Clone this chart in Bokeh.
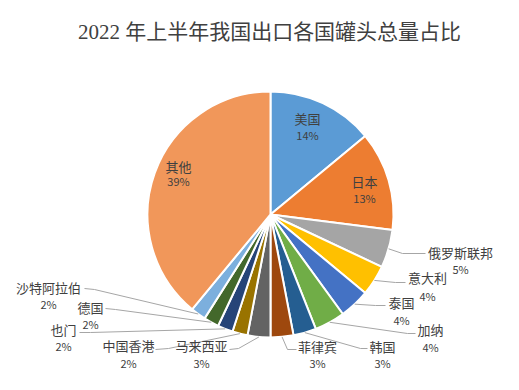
import math
from bokeh.plotting import figure
from bokeh.models import Range1d, ColumnDataSource
from bokeh.core.properties import value
from bokeh.embed import file_html
from bokeh.resources import INLINE

# ---------------- data ----------------
title_text = "2022 年上半年我国出口各国罐头总量占比"
categories = ["美国", "日本", "俄罗斯联邦", "意大利", "泰国", "加纳", "韩国",
              "菲律宾", "马来西亚", "中国香港", "也门", "德国", "沙特阿拉伯", "其他"]
shares = [14, 13, 5, 4, 4, 4, 3, 3, 3, 2, 2, 2, 2, 39]
colors = ["#5B9BD5", "#ED7D31", "#A5A5A5", "#FFC000", "#4472C4", "#70AD47", "#255E91",
          "#9E480E", "#636363", "#997300", "#264478", "#43682B", "#7CAFDD", "#F1975A"]

# ---------------- layout (image pixel coords) ----------------
W, H = 503, 374
IMG_H = 390
def Y(v):
    return IMG_H - v

CX, CY, R = 270, 214, 123
label_pos = {  # name centre x, name centre y, gap to percent line
    "美国": (307, 118, 16), "日本": (364, 181, 16), "俄罗斯联邦": (460, 252, 16),
    "意大利": (427, 277, 18), "泰国": (401, 302, 17), "加纳": (430, 329, 17),
    "韩国": (382, 346, 16), "菲律宾": (317, 346, 16), "马来西亚": (201, 345, 17),
    "中国香港": (128, 345, 17), "也门": (63, 329, 16), "德国": (90, 307, 16),
    "沙特阿拉伯": (48, 287, 16), "其他": (178, 166, 14),
}
leader_pos = {  # elbow, end
    "俄罗斯联邦": ((402, 253), (425, 253)), "意大利": ((395, 282), (405, 282)),
    "泰国": ((375, 305), (385, 305)), "加纳": ((407, 333), (415, 333)),
    "韩国": ((360, 348), (367, 348)), "菲律宾": ((287, 349), (296, 349)),
    "马来西亚": ((238, 348), (229, 349)), "中国香港": ((168, 348), (155, 349)),
    "也门": ((90, 332), (79, 332)), "德国": ((115, 309), (105, 308)),
    "沙特阿拉伯": ((94, 289), (84, 288)),
}

total = float(sum(shares))
starts, ends, mids = [], [], []
cum = 0.0
for s in shares:
    a0 = math.pi / 2 - 2 * math.pi * cum / total
    cum += s
    a1 = math.pi / 2 - 2 * math.pi * cum / total
    starts.append(a0)
    ends.append(a1)
    mids.append((a0 + a1) / 2)

src = ColumnDataSource(dict(start=starts, end=ends, color=colors, cat=categories))

p = figure(width=W, height=H, output_backend="svg", toolbar_location=None,
           x_range=Range1d(0, W), y_range=Range1d(Y(H), Y(0)),
           min_border=0, outline_line_color=None)
p.axis.visible = False
p.grid.visible = False
p.background_fill_color = "white"
p.border_fill_color = "white"

p.wedge(x=CX, y=Y(CY), radius=R, start_angle="start", end_angle="end",
        direction="clock", fill_color="color", line_color="white", line_width=2,
        source=src)

# leader lines
xs, ys = [], []
for cat, m in zip(categories, mids):
    if cat in leader_pos:
        (ex, ey), (tx, ty) = leader_pos[cat]
        sx = CX + R * math.cos(m)
        sy = Y(CY) + R * math.sin(m)
        xs.append([sx, ex, tx])
        ys.append([sy, Y(ey), Y(ty)])
p.multi_line(xs=xs, ys=ys, line_color="#A6A6A6", line_width=1)

# labels
nx, ny, px, py, ptxt = [], [], [], [], []
for cat, s in zip(categories, shares):
    x, y, g = label_pos[cat]
    nx.append(x); ny.append(Y(y))
    px.append(x); py.append(Y(y + g))
    ptxt.append(f"{s}%")
font = value("Noto Sans CJK SC")
p.text(x=nx, y=ny, text=categories, text_align="center", text_baseline="middle",
       text_font=font, text_font_size=value("13px"), text_color="#404040")
p.text(x=px, y=py, text=ptxt, text_align="center", text_baseline="middle",
       text_font=font, text_font_size=value("11px"), text_color="#404040")

# title
p.text(x=[269], y=[Y(31)], text=[title_text], text_align="center", text_baseline="middle",
       text_font=value("Liberation Serif, Noto Sans CJK SC"),
       text_font_size=value("21px"), text_color="#404040")

open("out.html", "w").write(file_html(p, INLINE))
